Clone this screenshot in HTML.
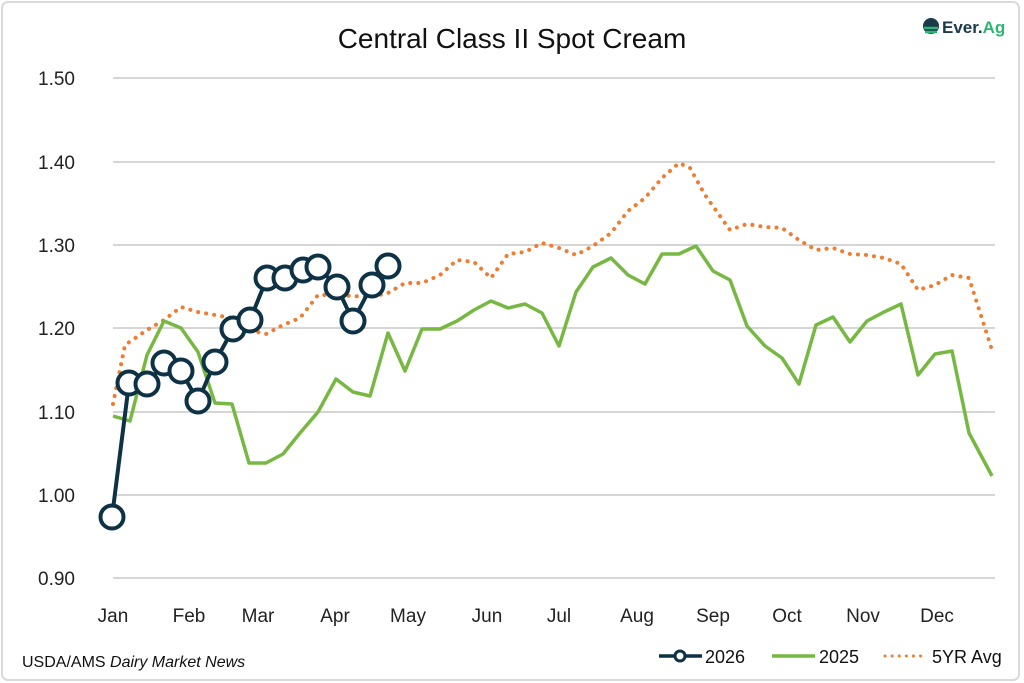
<!DOCTYPE html>
<html><head><meta charset="utf-8"><style>
body{margin:0;background:#fff;}
svg{display:block;font-family:"Liberation Sans",sans-serif;}
</style></head><body>
<svg width="1024" height="683" viewBox="0 0 1024 683" xmlns="http://www.w3.org/2000/svg">
<rect x="0" y="0" width="1024" height="683" fill="#fff"/>
<rect x="2" y="2" width="1017" height="678" rx="6" fill="#fff" stroke="#d9d9d9" stroke-width="2"/>
<text x="512" y="48" text-anchor="middle" font-size="28" fill="#111">Central Class II Spot Cream</text>
<g transform="translate(922,16)">
<circle cx="9" cy="10" r="8" fill="#1a3a4a"/>
<path d="M2 12 h14 M3 16 h12" stroke="#2bb673" stroke-width="2.5"/>
<text x="20" y="17" font-size="17" font-weight="bold" fill="#1a3a4a">Ever.<tspan fill="#2bb673">Ag</tspan></text>
</g>
<g stroke="#c8c8c8" stroke-width="1.5">
<line x1="113" y1="78" x2="995" y2="78"/><line x1="113" y1="162" x2="995" y2="162"/>
<line x1="113" y1="245" x2="995" y2="245"/><line x1="113" y1="328" x2="995" y2="328"/>
<line x1="113" y1="412" x2="995" y2="412"/><line x1="113" y1="495" x2="995" y2="495"/>
<line x1="113" y1="578" x2="995" y2="578"/>
</g>
<g font-size="19" fill="#222" text-anchor="start">
<text x="38" y="85">1.50</text><text x="38" y="169">1.40</text><text x="38" y="252">1.30</text>
<text x="38" y="335">1.20</text><text x="38" y="419">1.10</text><text x="38" y="502">1.00</text>
<text x="38" y="585">0.90</text>
</g>
<g font-size="19" fill="#222" text-anchor="middle">
<text x="113" y="622">Jan</text><text x="189" y="622">Feb</text><text x="258" y="622">Mar</text>
<text x="335" y="622">Apr</text><text x="408" y="622">May</text><text x="487" y="622">Jun</text>
<text x="559" y="622">Jul</text><text x="637" y="622">Aug</text><text x="713" y="622">Sep</text>
<text x="787" y="622">Oct</text><text x="863" y="622">Nov</text><text x="937" y="622">Dec</text>
</g>
<polyline fill="none" stroke="#ed7d31" stroke-width="4" stroke-dasharray="0.1 8" stroke-linecap="round" points="113,404 125,345 147,330 164,320 181,307 198,312 215,315 232,318 249,330 266,334 283,325 300,318 318,295 336,295 353,296 370,297 388,293 405,283 422,283 440,275 457,260 474,262 491,278 508,254 525,252 542,243 559,248 576,255 593,246 611,233 628,211 645,198 662,178 679,163 690,168 705,195 730,230 747,224 765,227 782,228 799,240 816,250 833,248 850,254 867,255 884,258 901,264 918,290 935,285 952,275 969,278 992,350"/>
<polyline fill="none" stroke="#77b843" stroke-width="3.5" stroke-linejoin="round" points="113,416 130,421 147,355 164,321 181,328 198,352 215,403 232,404 249,463 266,463 283,454 300,433 318,412 336,379 353,392 370,396 388,333 405,371 422,329 440,329 457,321 474,310 491,301 508,308 525,304 542,313 559,346 576,292 593,267 611,258 628,275 645,284 662,254 679,254 696,246 713,271 730,280 747,326 765,346 782,358 799,384 816,325 833,317 850,342 867,321 884,312 901,304 918,375 935,354 952,351 969,433 992,476"/>
<g stroke="#0d3245" stroke-width="4" fill="#fff">
<polyline fill="none" points="112,517 129,383 147,384 164,363 181,371 198,401 215,362 233,329 250,320 267,278 285,278 303,270 318,267 337,287 353,321 372,285 388,266"/>
<circle cx="112" cy="517" r="11.5"/><circle cx="129" cy="383" r="11.5"/><circle cx="147" cy="384" r="11.5"/>
<circle cx="164" cy="363" r="11.5"/><circle cx="181" cy="371" r="11.5"/><circle cx="198" cy="401" r="11.5"/>
<circle cx="215" cy="362" r="11.5"/><circle cx="233" cy="329" r="11.5"/><circle cx="250" cy="320" r="11.5"/>
<circle cx="267" cy="278" r="11.5"/><circle cx="285" cy="278" r="11.5"/><circle cx="303" cy="270" r="11.5"/>
<circle cx="318" cy="267" r="11.5"/><circle cx="337" cy="287" r="11.5"/><circle cx="353" cy="321" r="11.5"/>
<circle cx="372" cy="285" r="11.5"/><circle cx="388" cy="266" r="11.5"/>
</g>
<text x="22" y="667" font-size="16" fill="#111">USDA/AMS <tspan font-style="italic">Dairy Market News</tspan></text>
<line x1="659" y1="656" x2="702" y2="656" stroke="#0d3245" stroke-width="3.5"/>
<circle cx="680" cy="656" r="5" fill="#fff" stroke="#0d3245" stroke-width="3"/>
<text x="705" y="663" font-size="18" fill="#111">2026</text>
<line x1="772" y1="656" x2="815" y2="656" stroke="#77b843" stroke-width="3.5"/>
<text x="819" y="663" font-size="18" fill="#111">2025</text>
<line x1="885" y1="656" x2="925" y2="656" stroke="#ed7d31" stroke-width="3" stroke-dasharray="0.1 7" stroke-linecap="round"/>
<text x="932" y="663" font-size="18" fill="#111">5YR Avg</text>
</svg>
</body></html>
